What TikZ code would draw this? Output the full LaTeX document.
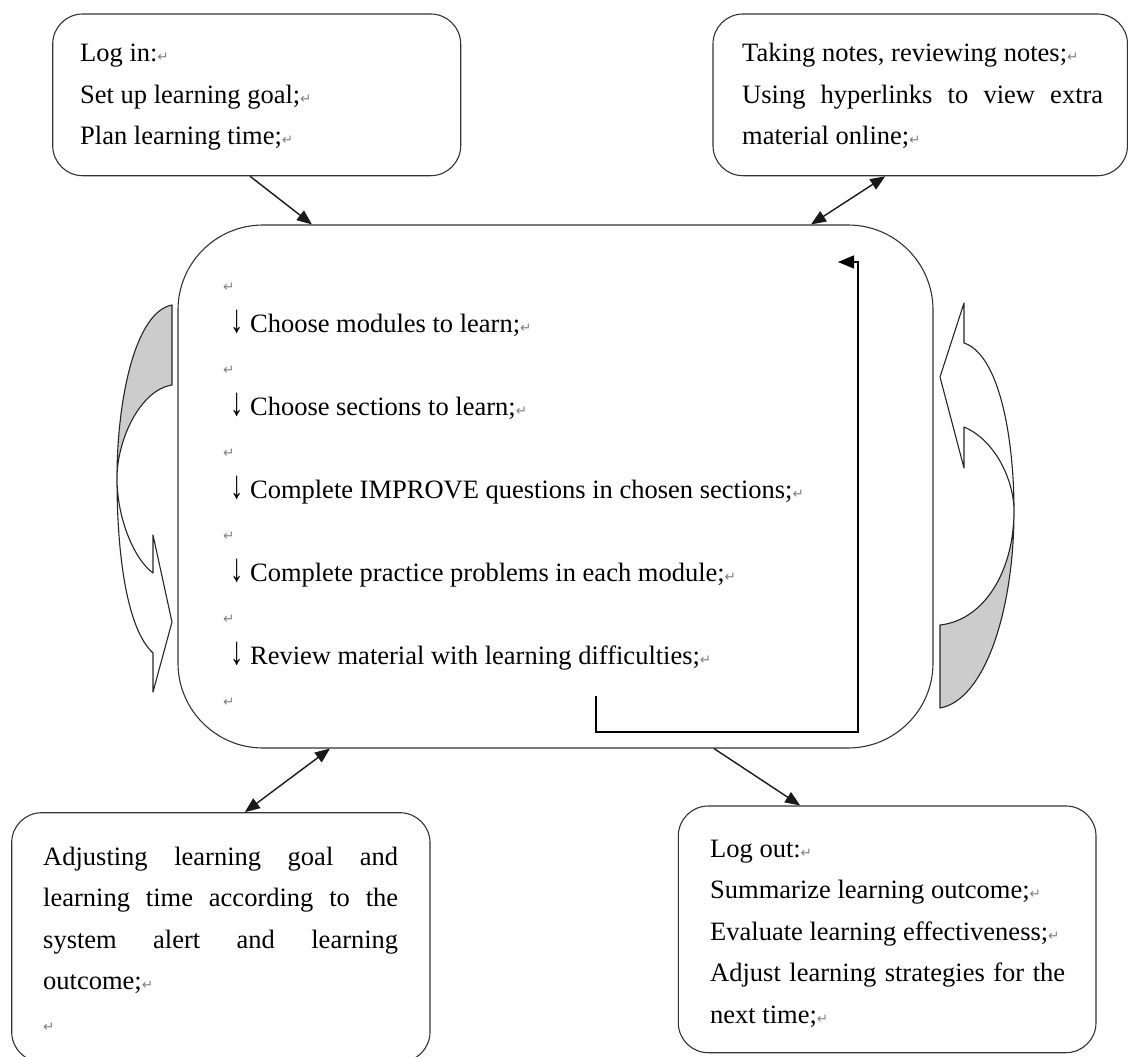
\documentclass[tikz,border=0pt]{standalone}
\usepackage{fontspec}
\setmainfont{Liberation Serif}
\newfontfamily\djv{DejaVu Sans}
\usetikzlibrary{arrows.meta}
\newcommand\retmark{{\djv\fontsize{13.5}{13.5}\selectfont\textcolor{black!50}{↵}}}
\newcommand\dnarrow{\scalebox{1}[1.5]{↓}}
\begin{document}
\begin{tikzpicture}[x=1pt,y=-1pt,
  box/.style={draw=black!80, line width=1.1pt, rounded corners=30pt, inner sep=0pt, fill=white},
  txt/.style={anchor=base west, inner sep=0pt, font=\fontsize{26.5}{41.5}\selectfont},
  conn/.style={line width=1.4pt, draw=black!90},
  curvearrow/.style={line width=1.1pt, draw=black!85, line join=round},
  >={Triangle[length=15pt,width=12pt]}]
\useasboundingbox (0,0) rectangle (1128,1057);
\clip (0,0) rectangle (1128,1057);

% boxes
\node[box, minimum width=408pt, minimum height=161.7pt] (tl) at (256.7,94.85) {};
\node[box, minimum width=414.5pt, minimum height=161.7pt] (tr) at (920.25,94.85) {};
\node[box, rounded corners=85pt, minimum width=755pt, minimum height=523pt] (c) at (555.5,486.5) {};
\node[box, minimum width=418.3pt, minimum height=249.3pt] (bl) at (220.85,937.35) {};
\node[box, minimum width=417.7pt, minimum height=246.7pt] (br) at (887.15,929.35) {};

% texts
\node[txt] (tltext) at (80,62) {\parbox[t]{370pt}{%
Log in:\retmark\\
Set up learning goal;\retmark\\
Plan learning time;\retmark}};

\node[txt] (trtext) at (742,62) {\parbox[t]{370pt}{%
Taking notes, reviewing notes;\retmark\\
\makebox[361pt][s]{Using hyperlinks to view extra}\\
material online;\retmark}};

\node[txt] (ctext) at (223,291) {\parbox[t]{640pt}{%
\retmark\\
\hspace*{7pt}\dnarrow\ Choose modules to learn;\retmark\\
\retmark\\
\hspace*{7pt}\dnarrow\ Choose sections to learn;\retmark\\
\retmark\\
\hspace*{7pt}\dnarrow\ Complete IMPROVE questions in chosen sections;\retmark\\
\retmark\\
\hspace*{7pt}\dnarrow\ Complete practice problems in each module;\retmark\\
\retmark\\
\hspace*{7pt}\dnarrow\ Review material with learning difficulties;\retmark\\
\retmark}};

\node[txt] (bltext) at (43,865) {\parbox[t]{370pt}{%
\makebox[355pt][s]{Adjusting learning goal and}\\
\makebox[355pt][s]{learning time according to the}\\
\makebox[355pt][s]{system alert and learning}\\
outcome;\retmark\\
\retmark}};

\node[txt] (brtext) at (710,857) {\parbox[t]{370pt}{%
Log out:\retmark\\
Summarize learning outcome;\retmark\\
Evaluate learning effectiveness;\retmark\\
\makebox[355pt][s]{Adjust learning strategies for the}\\
next time;\retmark}};

% connectors
\draw[conn,->] ([xshift=-6.7pt]tl.south) -- ([xshift=-243.5pt]c.north);
\draw[conn,<->] ([xshift=-35pt]tr.south) -- ([xshift=255.5pt]c.north);
\draw[conn,<->] ([xshift=-225.5pt]c.south) -- ([xshift=24pt]bl.north);
\draw[conn,->] ([xshift=158.5pt]c.south) -- ([xshift=-87pt]br.north);

% inner loop
\coordinate (l1) at (596,696);
\coordinate (l2) at (858,732);
\coordinate (l3) at (858,262);
\coordinate (l4) at (838,262);
\draw[line width=1.2pt, -{Triangle[length=16pt,width=13pt]}] (l1) |- (l2) -- (l3) -- (l4);

% left curved arrow
\fill[black!20] (172,305) .. controls (135,312) and (117,400) .. (117,478)
  .. controls (117,440) and (140,390) .. (172,385) -- cycle;
\draw[curvearrow] (172,305) .. controls (135,312) and (117,400) .. (117,478)
  .. controls (117,560) and (128,630) .. (153,653)
  -- (153,692) -- (172,622) -- (153,535) -- (153,573)
  .. controls (135,560) and (117,520) .. (117,478)
  .. controls (117,440) and (140,390) .. (172,385) -- cycle;

% right curved arrow
\fill[black!20] (1014,511) .. controls (1014,610) and (985,700) .. (940,708)
  -- (940,625) .. controls (985,620) and (1014,570) .. (1014,511) -- cycle;
\draw[curvearrow] (964,343) .. controls (1000,355) and (1014,440) .. (1014,511)
  .. controls (1014,610) and (985,700) .. (940,708)
  -- (940,625) .. controls (985,620) and (1014,570) .. (1014,511)
  .. controls (1014,480) and (995,440) .. (964,427)
  -- (964,468) -- (940,377) -- (964,303) -- cycle;
\end{tikzpicture}
\end{document}
